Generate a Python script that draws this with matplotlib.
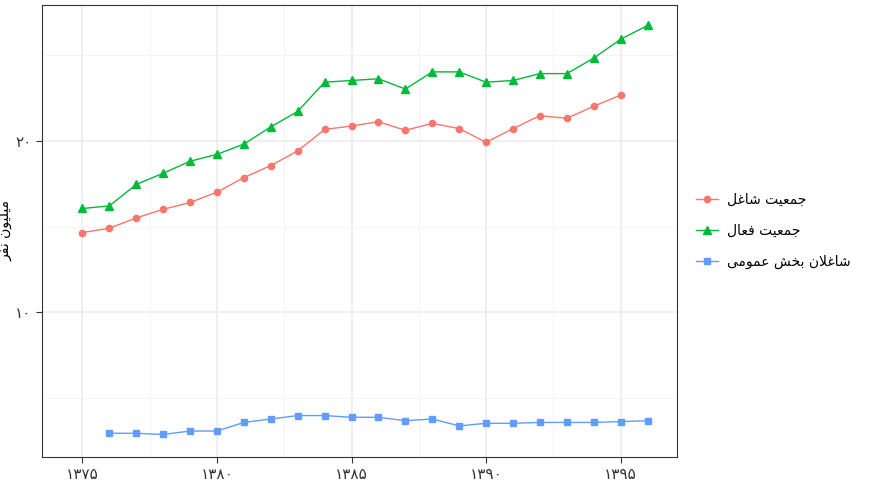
import matplotlib.pyplot as plt
from matplotlib.ticker import MultipleLocator

plt.rcParams['font.family'] = ['DejaVu Sans']

# شکل‌دهی ساده حروف فارسی برای matplotlib
FORMS = {
    'ا': ('\uFE8D', '\uFE8E', None, None),
    'ب': ('\uFE8F', '\uFE90', '\uFE91', '\uFE92'),
    'ت': ('\uFE95', '\uFE96', '\uFE97', '\uFE98'),
    'ج': ('\uFE9D', '\uFE9E', '\uFE9F', '\uFEA0'),
    'خ': ('\uFEA5', '\uFEA6', '\uFEA7', '\uFEA8'),
    'ر': ('\uFEAD', '\uFEAE', None, None),
    'ش': ('\uFEB5', '\uFEB6', '\uFEB7', '\uFEB8'),
    'ع': ('\uFEC9', '\uFECA', '\uFECB', '\uFECC'),
    'غ': ('\uFECD', '\uFECE', '\uFECF', '\uFED0'),
    'ف': ('\uFED1', '\uFED2', '\uFED3', '\uFED4'),
    'ل': ('\uFEDD', '\uFEDE', '\uFEDF', '\uFEE0'),
    'م': ('\uFEE1', '\uFEE2', '\uFEE3', '\uFEE4'),
    'ن': ('\uFEE5', '\uFEE6', '\uFEE7', '\uFEE8'),
    'و': ('\uFEED', '\uFEEE', None, None),
    'ی': ('\uFBFC', '\uFBFD', '\uFBFE', '\uFBFF'),
    'ﻻ': ('\uFEFB', '\uFEFC', None, None),
}


def shape(text):
    text = text.replace('لا', 'ﻻ')
    out = []
    for i, ch in enumerate(text):
        if ch not in FORMS:
            out.append(ch)
            continue
        prev = text[i - 1] if i > 0 else ''
        nxt = text[i + 1] if i + 1 < len(text) else ''
        joins_prev = prev in FORMS and FORMS[prev][2] is not None
        joins_next = nxt in FORMS and FORMS[ch][2] is not None
        iso, fin, ini, med = FORMS[ch]
        if joins_prev and joins_next:
            out.append(med)
        elif joins_prev:
            out.append(fin)
        elif joins_next:
            out.append(ini)
        else:
            out.append(iso)
    return ''.join(out)[::-1]


years_active = list(range(1375, 1397))
active = [16.05, 16.2, 17.45, 18.1, 18.8, 19.2, 19.8, 20.8, 21.7, 23.4, 23.5,
          23.6, 23.0, 24.0, 24.0, 23.4, 23.5, 23.9, 23.9, 24.8, 25.9, 26.7]

years_employed = list(range(1375, 1396))
employed = [14.65, 14.9, 15.5, 16.0, 16.4, 17.0, 17.85, 18.55, 19.4, 20.65, 20.85,
            21.1, 20.6, 21.0, 20.7, 19.9, 20.7, 21.45, 21.3, 22.0, 22.65]

years_public = list(range(1376, 1397))
public = [2.97, 2.97, 2.9, 3.1, 3.1, 3.6, 3.8, 4.0, 4.0, 3.9, 3.9,
          3.7, 3.8, 3.4, 3.55, 3.55, 3.6, 3.6, 3.6, 3.65, 3.7]

x_ticks = [1375, 1380, 1385, 1390, 1395]
x_labels = ['۱۳۷۵', '۱۳۸۰', '۱۳۸۵', '۱۳۹۰', '۱۳۹۵']
y_ticks = [10, 20]
y_labels = ['۱۰', '۲۰']

fig = plt.figure(figsize=(8.76, 4.87), dpi=100)
ax = fig.add_axes([0.048, 0.062, 0.725, 0.928])

ax.plot(years_employed, employed, color='#F8766D', marker='o', ms=4.5, lw=1,
        label=shape('جمعیت شاغل'))
ax.plot(years_active, active, color='#00BA38', marker='^', ms=5.5, lw=1,
        label=shape('جمعیت فعال'))
ax.plot(years_public, public, color='#619CFF', marker='s', ms=4.5, lw=1,
        label=shape('شاغلان بخش عمومی'))

ax.set_xlim(1373.5, 1397.1)
ax.set_ylim(1.6, 27.9)
ax.set_xticks(x_ticks, x_labels)
ax.set_yticks(y_ticks, y_labels)
ax.xaxis.set_minor_locator(MultipleLocator(2.5))
ax.yaxis.set_minor_locator(MultipleLocator(5))
ax.grid(which='major', color='#EBEBEB', lw=1.1)
ax.grid(which='minor', color='#F2F2F2', lw=0.6)
ax.set_axisbelow(True)
for s in ax.spines.values():
    s.set_color('#333333')
ax.tick_params(which='major', colors='#333333', labelsize=11, length=4)
ax.tick_params(which='minor', length=0)
ax.set_ylabel(shape('میلیون نفر'), fontsize=10, labelpad=2)

ax.legend(loc='center left', bbox_to_anchor=(1.01, 0.5), frameon=False,
          fontsize=10, handlelength=1.6, handletextpad=0.6, labelspacing=1.2)

fig.savefig('out.png', dpi=100)
